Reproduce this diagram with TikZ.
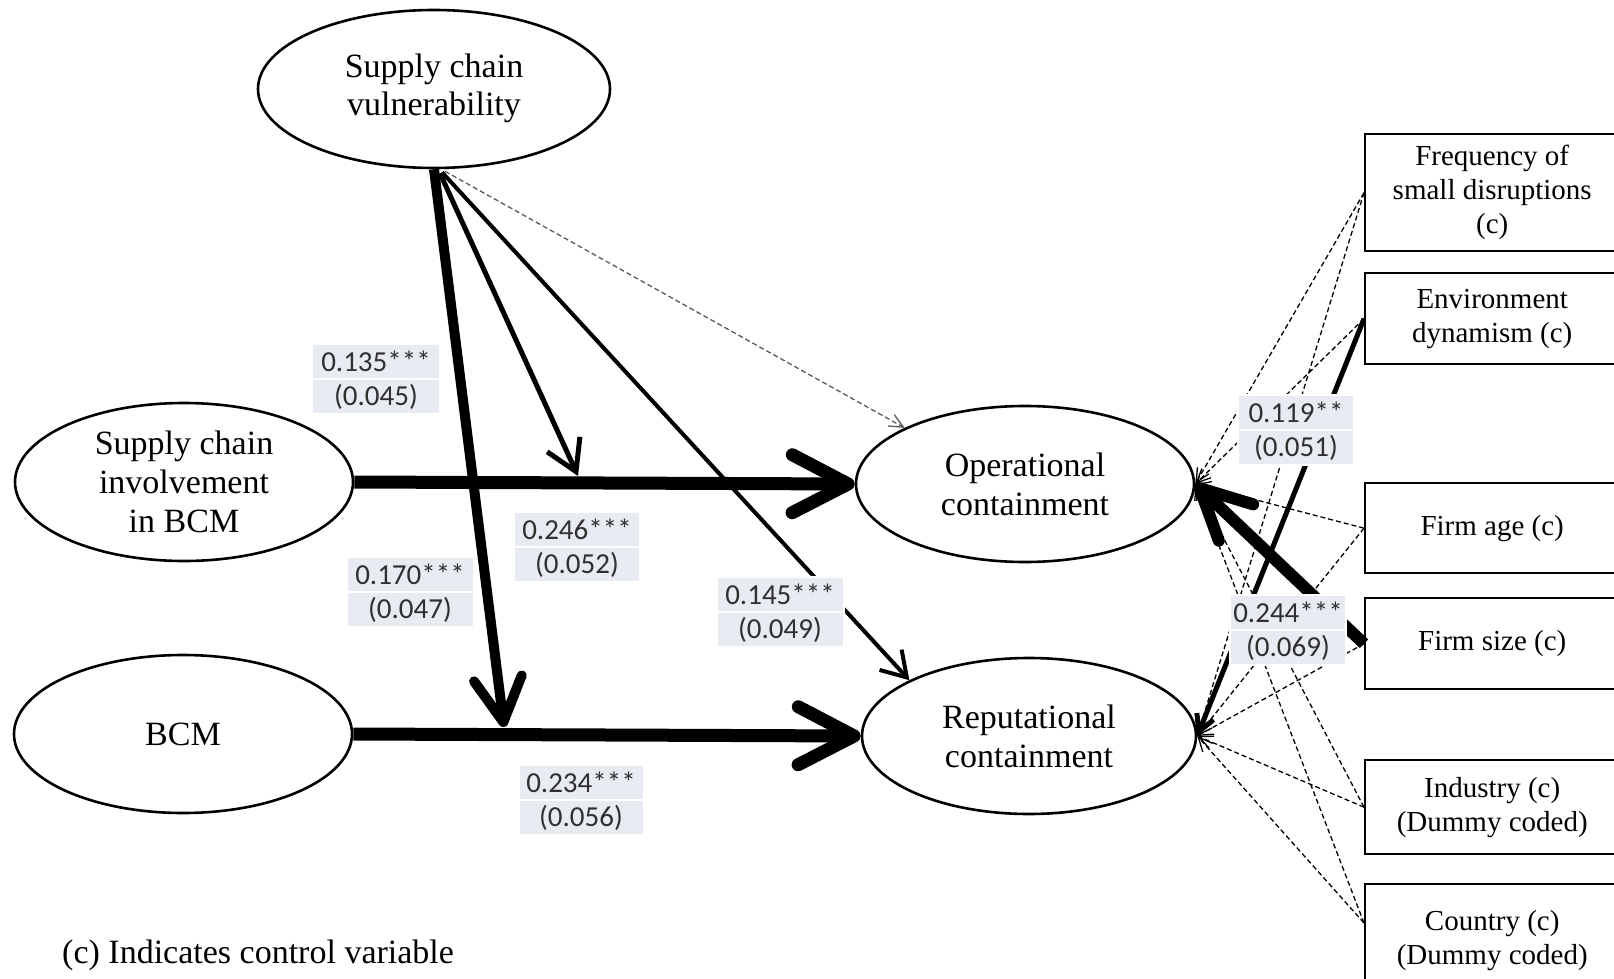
\documentclass[tikz,border=0pt]{standalone}
\usepackage{fontspec}
\setmainfont{Liberation Serif}
\newfontfamily\lblfont{Carlito}
\usetikzlibrary{arrows.meta,calc,shapes.geometric}
\definecolor{lblfill}{HTML}{E8ECF2}
\definecolor{lbltext}{HTML}{303030}
\begin{document}
\begin{tikzpicture}[x=1pt,y=-1pt,
  lat/.style={ellipse, draw, line width=2.6pt, inner sep=0pt, align=center, font=\fontsize{34}{39}\selectfont},
  ctrl/.style={rectangle, draw, line width=2.4pt, inner sep=0pt, anchor=north west, align=center, minimum width=254pt, font=\fontsize{29}{34}\selectfont},
  lbl/.style={rectangle, fill=lblfill, draw=white, line width=2pt, inner sep=0pt, minimum height=35pt, anchor=north, text=lbltext, font=\lblfont\fontsize{29}{30}\selectfont},
  bigarrow/.style={line width=13pt, -{Straight Barb[length=56pt,width=58pt,round]}},
  dashln/.style={line width=1.3pt, dash pattern=on 5pt off 3pt, -{Straight Barb[length=14pt,width=13pt]}},
]
\useasboundingbox (0,0) rectangle (1614,979);

% latent variables
\node[lat, minimum width=352pt, minimum height=158pt] (scv) at (434,89) {\raisebox{-4pt}{\begin{tabular}{@{}c@{}}Supply chain\\[-1pt]vulnerability\end{tabular}}};
\node[lat, minimum width=338pt, minimum height=158pt] (sci) at (184,482) {Supply chain\\involvement\\in BCM};
\node[lat, minimum width=338pt, minimum height=158pt] (bcm) at (183,734) {BCM};
\node[lat, minimum width=338pt, minimum height=156pt] (op) at (1025,484) {Operational\\containment};
\node[lat, minimum width=334pt, minimum height=156pt] (rep) at (1029,736) {Reputational\\containment};

% control variables
\node[ctrl, minimum height=117pt] (freq) at (1364,133) {Frequency of\\small disruptions\\(c)};
\node[ctrl, minimum height=91pt] (env) at (1364,272) {Environment\\dynamism (c)};
\node[ctrl, minimum height=90pt] (age) at (1364,482) {Firm age (c)};
\node[ctrl, minimum height=91pt] (size) at (1364,597) {Firm size (c)};
\node[ctrl, minimum height=94pt] (ind) at (1364,759) {Industry (c)\\(Dummy coded)};
\node[ctrl, minimum height=112pt] (ctry) at (1364,883) {Country (c)\\(Dummy coded)};
\coordinate (ctryw) at ($(ctry.north west)+(0,40)$);

% moderation points
\coordinate (m1) at (578,476);
\coordinate (m2) at (504,727);

% main paths
\draw[bigarrow] (sci.east) -- (op.west);
\draw[bigarrow] (bcm.east) -- (rep.west);
\draw[line width=10pt, -{Straight Barb[length=44pt,width=48pt,round]}] (scv.south) -- (m2);
\draw[line width=5pt, -{Straight Barb[length=30pt,width=36pt]}] ($(scv.south)+(6,4)$) -- (m1);
\draw[line width=4pt, -{Straight Barb[length=24pt,width=30pt]}] ($(scv.south)+(8,3)$) -- (rep.155);
\draw[dashln, gray!70!black] ($(scv.south)+(11,2)$) -- (op.155);

% control paths
\draw[dashln] (freq.west) -- (op.east);
\draw[dashln] (freq.west) -- (rep.east);
\draw[dashln] (env.west) -- (op.east);
\draw[line width=5pt, -{Straight Barb[length=16pt,width=18pt]}] (env.west) -- (rep.east);
\draw[dashln] (age.west) -- (op.east);
\draw[dashln] (age.west) -- (rep.east);
\draw[dashln] (size.west) -- (rep.east);
\draw[line width=12pt, -{Straight Barb[length=50pt,width=50pt,round]}] (size.west) -- (op.east);
\draw[dashln] (ind.west) -- (op.east);
\draw[dashln] (ind.west) -- (rep.east);
\draw[dashln] (ctryw) -- (op.east);
\draw[dashln] (ctryw) -- (rep.east);

% coefficient labels
\node[lbl, minimum width=128pt] (l1a) at (376,343) {0.135***};
\node[lbl, minimum width=128pt] (l1b) at (376,378) {(0.045)};
\node[lbl, minimum width=126pt] (l2a) at (577,511) {0.246***};
\node[lbl, minimum width=126pt] (l2b) at (577,546) {(0.052)};
\node[lbl, minimum width=127pt] (l3a) at (410,556) {0.170***};
\node[lbl, minimum width=127pt] (l3b) at (410,591) {(0.047)};
\node[lbl, minimum width=127pt] (l4a) at (780,576) {0.145***};
\node[lbl, minimum width=127pt] (l4b) at (780,611) {(0.049)};
\node[lbl, minimum width=125pt] (l5a) at (581,764) {0.234***};
\node[lbl, minimum width=125pt] (l5b) at (581,799) {(0.056)};
\node[lbl, minimum width=116pt] (l6a) at (1296,394) {0.119**};
\node[lbl, minimum width=116pt] (l6b) at (1296,429) {(0.051)};
\node[lbl, minimum width=116pt] (l7a) at (1288,594) {0.244***};
\node[lbl, minimum width=116pt] (l7b) at (1288,629) {(0.069)};

% note
\node[anchor=base west, inner sep=0pt, font=\fontsize{34}{39}\selectfont] (note) at (62,963) {(c) Indicates control variable};
\end{tikzpicture}
\end{document}
